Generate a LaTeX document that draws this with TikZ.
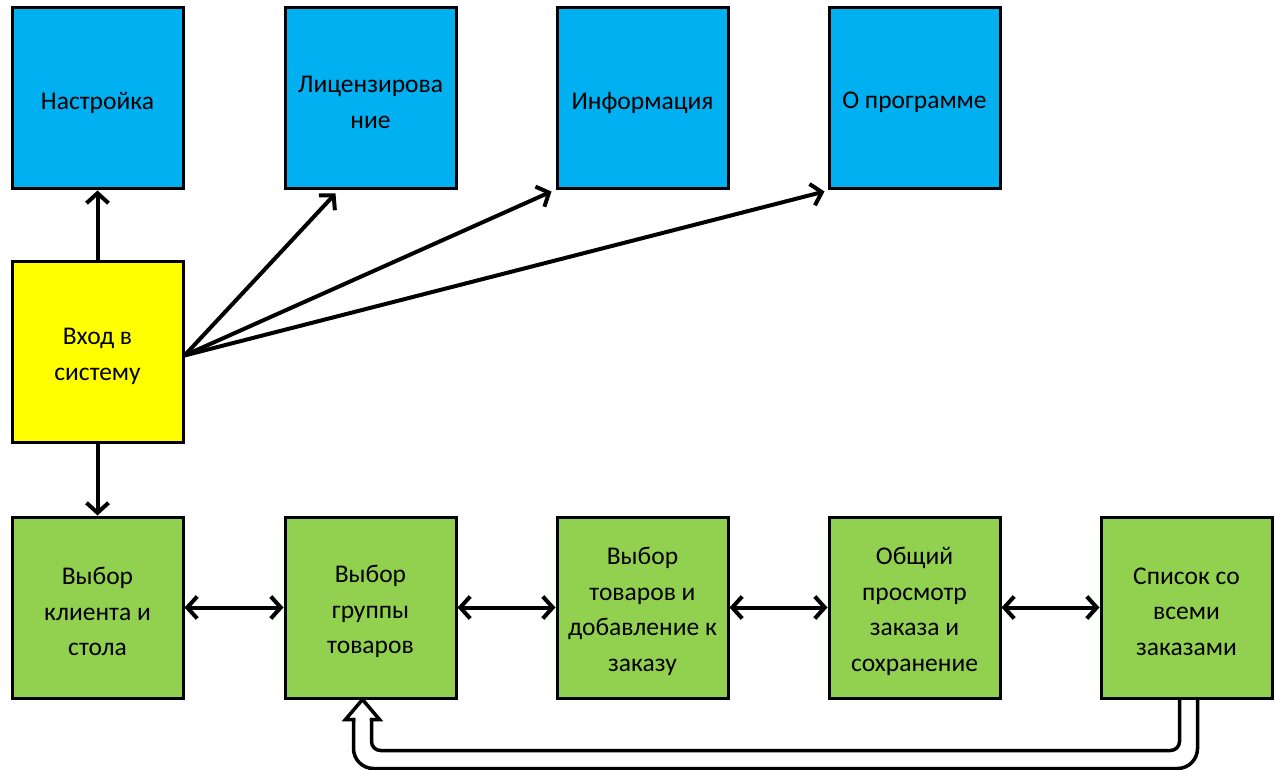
\documentclass[tikz,border=0pt]{standalone}
\usepackage{fontspec}
\setmainfont{Carlito}
\usetikzlibrary{arrows.meta,calc}
\definecolor{cblue}{HTML}{00B0F0}
\definecolor{cyellow}{HTML}{FFFF00}
\definecolor{cgreen}{HTML}{92D050}
\tikzset{
  box/.style={draw=black, line width=3pt, minimum width=171pt, minimum height=181pt,
    inner sep=0pt, align=center, font=\fontsize{25.5}{35.5}\selectfont,
    label={[lbl]center:#1}},
  lbl/.style={align=center, font=\fontsize{25.5}{35.5}\selectfont, yshift=-4pt, inner sep=0pt},
  bluebox/.style={box=#1, fill=cblue},
  yelbox/.style={box=#1, fill=cyellow},
  grnbox/.style={box=#1, fill=cgreen},
  conn/.style={line width=4pt, -{Straight Barb[length=10pt,width=22pt,line width=4pt]}},
  bconn/.style={line width=4pt, {Straight Barb[length=10pt,width=22pt,line width=4pt]}-{Straight Barb[length=10pt,width=22pt,line width=4pt]}},
  hollow/.style={line width=3.5pt, line cap=rect, line join=miter}
}
\begin{document}
\begin{tikzpicture}[x=1pt,y=1pt]
\useasboundingbox (0,0) rectangle (1276,769);
% top row
\node[bluebox={Настройка}] (nast) at (97.5,670.5) {};
\node[bluebox={Лицензирова\\ние}] (lic) at (370.5,670.5) {};
\node[bluebox={Информация}] (info) at (642.5,670.5) {};
\node[bluebox={О программе}] (about) at (914.5,670.5) {};
% login
\node[yelbox={Вход в\\систему}] (login) at (97.5,416.5) {};
% bottom row
\node[grnbox={Выбор\\клиента и\\стола}] (client) at (97.5,161.5) {};
\node[grnbox={Выбор\\группы\\товаров}] (grp) at (370.5,161.5) {};
\node[grnbox={Выбор\\товаров и\\добавление к\\заказу}] (goods) at (642.5,161.5) {};
\node[grnbox={Общий\\просмотр\\заказа и\\сохранение}] (view) at (914.5,161.5) {};
\node[grnbox={Список со\\всеми\\заказами}] (list) at (1186.5,161.5) {};
% connectors from login
\coordinate (src) at ($(login.east)+(0,-3)$);
\draw[conn] (login.north) -- (nast.south);
\draw[conn] (src) -- ($(lic.south west)+(52,-3)$);
\draw[conn] (src) -- ($(info.south west)+(-4,-1)$);
\draw[conn] (src) -- ($(about.south west)+(-3,-1)$);
\draw[conn] (login.south) -- (client.north);
% bottom row double arrows
\draw[bconn] (client.east) -- (grp.west);
\draw[bconn] (grp.east) -- (goods.west);
\draw[bconn] (goods.east) -- (view.west);
\draw[bconn] (view.east) -- (list.west);
% hollow return arrow
\coordinate (tip) at ($(grp.south)+(-8,0)$);
\coordinate (rs) at ($(list.south)+(2,0)$);
\draw[hollow, rounded corners=9] ($(rs)+(-9,0)$) -- ($(rs)+(-9,-51)$) -- ($(tip)+(9,-51)$) -- ($(tip)+(9,-20)$);
\draw[hollow] ($(tip)+(9,-20)$) -- ($(tip)+(17,-20)$) -- (tip) -- ($(tip)+(-17,-20)$) -- ($(tip)+(-9,-20)$);
\draw[hollow, rounded corners=20] ($(tip)+(-9,-20)$) -- ($(tip)+(-9,-69)$) -- ($(rs)+(9,-69)$) -- ($(rs)+(9,0)$);
\end{tikzpicture}
\end{document}
